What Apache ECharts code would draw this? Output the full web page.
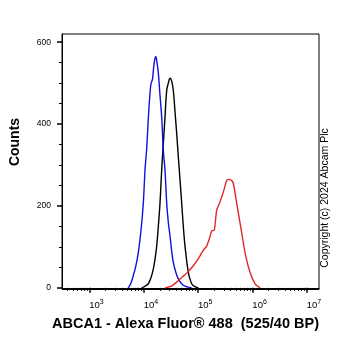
<!DOCTYPE html>
<html>
<head>
<meta charset="utf-8">
<script src="https://cdn.jsdelivr.net/npm/echarts@6/dist/echarts.min.js"></script>
<style>html,body{margin:0;padding:0;background:#fff}#c{width:362px;height:351px}</style>
</head>
<body>
<div id="c"></div>
<script>
// x values are log10(fluorescence)
var blueX = [3.718,3.767,3.810,3.859,3.902,3.951,3.994,4.025,4.056,4.089,4.117,4.135,4.163,4.190,4.222,4.246,4.270,4.301,4.332,4.362,4.393,4.424,4.454,4.485,4.516,4.546,4.592,4.638,4.700,4.761,4.884];
var blueY = [0,12,30,55,86,140,207,288,340,420,475,498,510,545,565,550,525,470,417,336,288,207,160,127,90,62,38,22,10,4,0];
var blackX = [3.964,4.025,4.086,4.135,4.178,4.209,4.240,4.270,4.301,4.332,4.356,4.393,4.424,4.454,4.485,4.516,4.546,4.577,4.608,4.638,4.656,4.700,4.730,4.761,4.822,4.871,4.914,5.006];
var blackY = [0,4,10,25,46,70,102,150,207,288,340,417,482,500,512,505,482,430,377,320,288,207,150,102,38,14,5,0];
var redX = [4.393,4.522,4.608,4.706,4.792,4.914,5.000,5.098,5.160,5.221,5.252,5.300,5.344,5.405,5.466,5.528,5.557,5.620,5.650,5.681,5.742,5.804,5.865,5.957,6.049,6.141];
var redY = [0,5,14,26,36,54,70,92,102,125,139,141,190,210,234,262,265,262,255,232,183,135,86,38,10,0];
var xMajor = [3,4,5,6,7];
var yMajor = [0,200,400,600];
var yMinor = [50,100,150,250,300,350,450,500,550];
var xMinor = [];
for (var d = 2; d <= 7; d++) { for (var k = 2; k <= 9; k++) { var v = d + Math.log10(k); if (v > 2.498 && v < 7.226) xMinor.push(v); } }
var xTitle = 'ABCA1 - Alexa Fluor® 488  (525/40 BP)';
var yTitle = 'Counts';
var copyright = 'Copyright (c) 2024 Abcam Plc';

function pairs(xs, ys) { return xs.map(function (x, i) { return [x, ys[i]]; }); }

var chart = echarts.init(document.getElementById('c'), null, {renderer: 'canvas'});
var F = 'Liberation Sans, Arial, sans-serif';
chart.setOption({
  animation: false,
  backgroundColor: '#fff',
  grid: {left: 62, top: 34, right: 43, bottom: 61.5, show: true, borderColor: '#000', borderWidth: 1, backgroundColor: 'transparent'},
  xAxis: [{
    type: 'value', min: 2.498, max: 7.226,
    axisLine: {show: true, lineStyle: {color: '#000', width: 1}},
    splitLine: {show: false},
    axisTick: {show: true, customValues: xMajor, length: 5, lineStyle: {color: '#000', width: 1.5}},
    axisLabel: {show: true, customValues: xMajor, margin: 9, align: 'left',
      formatter: function (v) { return '{b|10}{s|' + Math.round(v) + '}'; },
      rich: {b: {fontSize: 9.5, fontFamily: F, color: '#000'}, s: {fontSize: 7, fontFamily: F, color: '#000', padding: [0, 0, 6, 0]}}}
  }, {
    type: 'value', min: 2.498, max: 7.226, position: 'bottom',
    axisLine: {show: false}, splitLine: {show: false}, axisLabel: {show: false},
    axisTick: {show: true, customValues: xMinor, length: 3, lineStyle: {color: '#000', width: 1}}
  }],
  yAxis: [{
    type: 'value', min: -4, max: 620,
    axisLine: {show: true, lineStyle: {color: '#000', width: 1}},
    splitLine: {show: false},
    axisTick: {show: true, customValues: yMajor, length: 5, lineStyle: {color: '#000', width: 1.5}},
    axisLabel: {show: true, customValues: yMajor, margin: 11, fontSize: 8.5, fontFamily: F, color: '#000'}
  }, {
    type: 'value', min: -4, max: 620, position: 'left',
    axisLine: {show: false}, splitLine: {show: false}, axisLabel: {show: false},
    axisTick: {show: true, customValues: yMinor, length: 3, lineStyle: {color: '#000', width: 1}}
  }],
  series: [
    {type: 'line', data: pairs(blackX, blackY), showSymbol: false, smooth: 0.4, lineStyle: {color: '#000', width: 1.4}},
    {type: 'line', data: pairs(blueX, blueY), showSymbol: false, smooth: 0.4, lineStyle: {color: '#1010e0', width: 1.4}},
    {type: 'line', data: pairs(redX, redY), showSymbol: false, smooth: 0.2, lineStyle: {color: '#e02828', width: 1.4}}
  ],
  graphic: [
    {type: 'text', x: 185.5, y: 324, style: {text: xTitle, font: 'bold 14.5px ' + F, fill: '#000', textAlign: 'center', textVerticalAlign: 'middle'}},
    {type: 'text', x: 15, y: 142, rotation: Math.PI / 2, style: {text: yTitle, font: 'bold 14px ' + F, fill: '#000', textAlign: 'center', textVerticalAlign: 'middle'}},
    {type: 'text', x: 325, y: 198, rotation: Math.PI / 2, style: {text: copyright, font: '10.5px ' + F, fill: '#000', textAlign: 'center', textVerticalAlign: 'middle'}}
  ]
});
</script>
</body>
</html>
